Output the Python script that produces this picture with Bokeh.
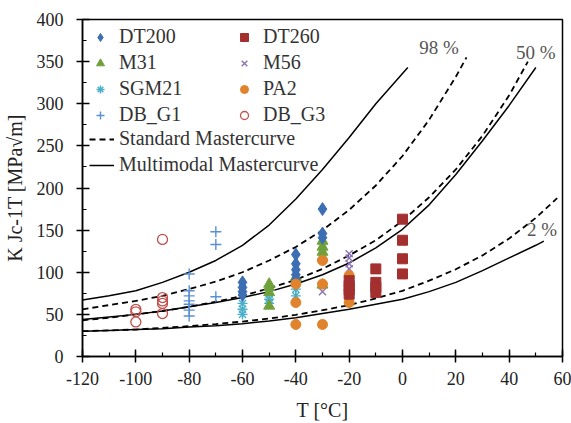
from bokeh.plotting import figure
from bokeh.models import (Range1d, SingleIntervalTicker, Legend, LegendItem, Label,
                          PrintfTickFormatter)
from bokeh.embed import file_html
from bokeh.resources import INLINE

# ---------------- data ----------------
dt200_T = [-60, -60, -60, -60, -40, -40, -40, -40, -40, -30, -30, -30]
dt200_K = [88, 82, 77, 73, 121, 110, 103, 97, 91, 175, 146, 141]

dt260_T = [-20, -20, -20, -20, -10, -10, -10, -10, 0, 0, 0, 0]
dt260_K = [90, 84, 79, 74, 104, 88, 82, 76, 163, 138, 116, 98]

m31_T = [-50, -50, -50, -50, -40, -30, -30, -30, -30, -30]
m31_K = [86, 82, 76, 60, 94, 137, 130, 124, 118, 85]

m56_T = [-30, -20, -20, -20, -20]
m56_K = [77, 122, 117, 110, 104]

sgm21_T = [-60, -60, -60, -50, -50, -50, -40, -40]
sgm21_K = [63, 56, 50, 74, 68, 63, 80, 72]

pa2_T = [-40, -40, -40, -30, -30, -30, -20, -20]
pa2_K = [86, 64, 38, 114, 86, 38, 96, 64]

dbg1_T = [-80, -80, -80, -80, -80, -80, -80, -70, -70, -70]
dbg1_K = [98, 78, 72, 66, 62, 55, 48, 148, 133, 71]

dbg3_T = [-100, -100, -100, -90, -90, -90, -90, -90]
dbg3_K = [56, 53, 41, 139, 70, 66, 63, 51]

# standard master curve (dashed)
std98_T = [-120, -110, -100, -90, -80, -70, -60, -50, -40, -30, -20, -10, 0, 10, 20, 24]
std98_K = [56, 61, 66, 72, 80, 89, 100, 114, 130, 150, 174, 203, 238, 281, 332, 355]
std50_T = [-120, -110, -100, -90, -80, -70, -60, -50, -40, -30, -20, -10, 0, 10, 20, 30, 40, 47]
std50_K = [43, 46, 50, 54, 59, 65, 72, 81, 91, 104, 120, 138, 161, 189, 222, 262, 310, 350]
std2_T = [-120, -110, -100, -90, -80, -70, -60, -50, -40, -30, -20, -10, 0, 10, 20, 30, 40, 50, 58]
std2_K = [30, 31, 32, 34, 36, 38.5, 41.5, 45, 49.5, 55, 61, 69, 78, 90, 103.5, 120, 140, 164.5, 188]

# multimodal master curve (solid)
mm98_T = [-120, -110, -100, -90, -80, -70, -60, -50, -40, -30, -20, -10, 0, 2]
mm98_K = [67, 72, 78, 88, 100, 114, 132, 156, 187, 222, 260, 300, 336, 343]
mm50_T = [-120, -110, -100, -90, -80, -70, -60, -50, -40, -30, -20, -10, 0, 10, 20, 30, 40, 50]
mm50_K = [44, 47, 50, 54, 59, 64, 70, 77, 86, 97, 111, 129, 151, 180, 216, 256, 298, 343]
mm2_T = [-120, -110, -100, -90, -80, -70, -60, -50, -40, -30, -20, -10, 0, 10, 20, 30, 40, 50, 53]
mm2_K = [30, 31, 32, 33, 35, 36.5, 39, 42, 46, 51, 56, 62, 68, 77, 88, 102, 117, 132, 137]

pct_labels = ["98 %", "50 %", "2 %"]
pct_T = [13.7, 50.0, 52.3]
pct_K = [367, 361, 151]

# ---------------- figure ----------------
FONT = "Liberation Serif"
W, H = 571, 423
L, R, T, B = 81, 9, 19, 66
FB = H - B  # canvas y of frame bottom

p = figure(width=W, height=H, output_backend="svg", toolbar_location=None,
           x_range=Range1d(-120, 60), y_range=Range1d(0, 400),
           min_border_left=L, min_border_right=R, min_border_top=T,
           min_border_bottom=B)
p.grid.visible = False
p.outline_line_color = "black"
p.outline_line_width = 1.5

xa = p.xaxis[0]
ya = p.yaxis[0]
xa.ticker = SingleIntervalTicker(interval=20, num_minor_ticks=2)
ya.ticker = SingleIntervalTicker(interval=50, num_minor_ticks=2)
for ax in (xa, ya):
    ax.axis_line_color = "black"
    ax.axis_line_width = 1.5
    ax.major_tick_line_color = "black"
    ax.major_tick_line_width = 1.5
    ax.minor_tick_line_color = "black"
    ax.minor_tick_line_width = 1.2
    ax.major_tick_in = 7
    ax.major_tick_out = 6
    ax.minor_tick_in = 4
    ax.minor_tick_out = 0
    ax.formatter = PrintfTickFormatter(format="%d")
    ax.major_label_text_font = FONT
    ax.major_label_text_font_size = "18px"
    ax.major_label_text_color = "#222222"
    ax.axis_label_text_font = FONT
    ax.axis_label_text_font_size = "20px"
    ax.axis_label_text_color = "#222222"
    ax.axis_label_text_font_style = "normal"
xa.major_label_standoff = 9
ya.major_label_standoff = 13
xa.axis_label = "T [°C]"
ya.axis_label = "K Jc-1T [MPa√m]"
xa.axis_label_standoff = 11
ya.axis_label_standoff = 8

# curves
dash = "6 4"
r_s98 = p.line(std98_T, std98_K, line_color="black", line_width=1.8, line_dash=dash)
r_s50 = p.line(std50_T, std50_K, line_color="black", line_width=1.8, line_dash=dash)
r_s2 = p.line(std2_T, std2_K, line_color="black", line_width=1.8, line_dash=dash)
r_m98 = p.line(mm98_T, mm98_K, line_color="black", line_width=1.5)
r_m50 = p.line(mm50_T, mm50_K, line_color="black", line_width=1.5)
r_m2 = p.line(mm2_T, mm2_K, line_color="black", line_width=1.5)

# points
r_dbg1 = p.scatter(dbg1_T, dbg1_K, marker="cross", size=11, line_color="#5A8FD2", line_width=1.4)
r_dbg3 = p.scatter(dbg3_T, dbg3_K, marker="circle", size=10, fill_color=None, line_color="#C0504D", line_width=1.3)
r_sgm = p.scatter(sgm21_T, sgm21_K, marker="asterisk", size=10, line_color="#4AAFC8", line_width=1.4)
r_m56 = p.scatter(m56_T, m56_K, marker="x", size=10, line_color="#8A72B4", line_width=1.4)
r_m31 = p.scatter(m31_T, m31_K, marker="triangle", size=11, fill_color="#70A03C", line_color="#70A03C")
r_dt200 = p.scatter(dt200_T, dt200_K, marker="diamond", size=13, fill_color="#3D6EB4", line_color="#3D6EB4")
r_pa2 = p.scatter(pa2_T, pa2_K, marker="circle", size=10, fill_color="#E0832C", line_color="#E0832C")
r_dt260 = p.scatter(dt260_T, dt260_K, marker="square", size=10, fill_color="#A3302F", line_color="#A3302F")


def make_legend(items, loc, gw, standoff):
    return Legend(items=items, location=loc, orientation="vertical",
                  glyph_width=gw, glyph_height=20, label_height=20, spacing=3,
                  padding=0, margin=0, label_standoff=standoff,
                  border_line_color=None, background_fill_alpha=0,
                  label_text_font=FONT, label_text_font_size="20px",
                  label_text_color="#333333")


leg1 = make_legend([LegendItem(label="DT200", renderers=[r_dt200]),
                    LegendItem(label="M31", renderers=[r_m31]),
                    LegendItem(label="SGM21", renderers=[r_sgm]),
                    LegendItem(label="DB_G1", renderers=[r_dbg1])],
                   (8, FB - 127), 20, 9)
leg2 = make_legend([LegendItem(label="DT260", renderers=[r_dt260]),
                    LegendItem(label="M56", renderers=[r_m56]),
                    LegendItem(label="PA2", renderers=[r_pa2]),
                    LegendItem(label="DB_G3", renderers=[r_dbg3])],
                   (152, FB - 127), 20, 9)
leg3 = make_legend([LegendItem(label="Standard Mastercurve", renderers=[r_s50]),
                    LegendItem(label="Multimodal Mastercurve", renderers=[r_m50])],
                   (7, FB - 177), 25, 5)
for lg in (leg1, leg2, leg3):
    p.add_layout(lg)

# percentage labels
for txt, tx, ky in zip(pct_labels, pct_T, pct_K):
    p.add_layout(Label(x=tx, y=ky, text=txt, text_font=FONT, text_font_size="19px",
                       text_color="#555555", text_align="center", text_baseline="middle"))

open("out.html", "w").write(file_html(p, INLINE))
